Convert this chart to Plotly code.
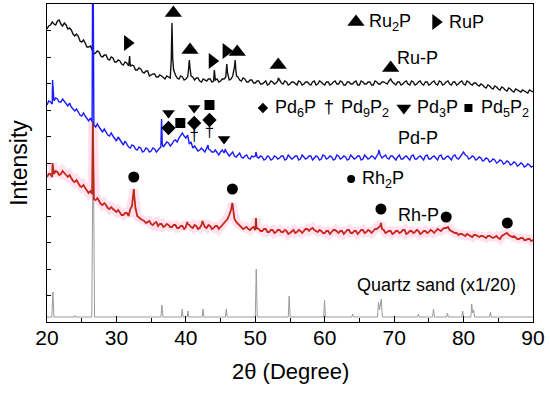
import plotly.graph_objects as go

# ---------------- data ----------------
two_theta = [20.0, 20.5, 21.0, 21.5, 22.0, 22.5, 23.0, 23.5, 24.0, 24.5, 25.0, 25.5, 26.0, 26.5, 27.0, 27.5,
             28.0, 28.5, 29.0, 29.5, 30.0, 30.5, 31.0, 31.5, 32.0, 32.5, 33.0, 33.5, 34.0, 34.5, 35.0, 35.5,
             36.0, 36.5, 37.0, 37.5, 38.0, 38.5, 39.0, 39.5, 40.0, 40.5, 41.0, 41.5, 42.0, 42.5, 43.0, 43.5,
             44.0, 44.5, 45.0, 45.5, 46.0, 46.5, 47.0, 47.5, 48.0, 48.5, 49.0, 49.5, 50.0, 50.5, 51.0, 51.5,
             52.0, 52.5, 53.0, 53.5, 54.0, 54.5, 55.0, 55.5, 56.0, 56.5, 57.0, 57.5, 58.0, 58.5, 59.0, 59.5,
             60.0, 60.5, 61.0, 61.5, 62.0, 62.5, 63.0, 63.5, 64.0, 64.5, 65.0, 65.5, 66.0, 66.5, 67.0, 67.5,
             68.0, 68.5, 69.0, 69.5, 70.0, 70.5, 71.0, 71.5, 72.0, 72.5, 73.0, 73.5, 74.0, 74.5, 75.0, 75.5,
             76.0, 76.5, 77.0, 77.5, 78.0, 78.5, 79.0, 79.5, 80.0, 80.5, 81.0, 81.5, 82.0, 82.5, 83.0, 83.5,
             84.0, 84.5, 85.0, 85.5, 86.0, 86.5, 87.0, 87.5, 88.0, 88.5, 89.0, 89.5, 90.0]
two_theta_mid = [20.25, 20.75, 21.25, 21.75, 22.25, 22.75, 23.25, 23.75, 24.25, 24.75, 25.25, 25.75, 26.25, 26.75, 27.25, 27.75,
                 28.25, 28.75, 29.25, 29.75, 30.25, 30.75, 31.25, 31.75, 32.25, 32.75, 33.25, 33.75, 34.25, 34.75, 35.25, 35.75,
                 36.25, 36.75, 37.25, 37.75, 38.25, 38.75, 39.25, 39.75, 40.25, 40.75, 41.25, 41.75, 42.25, 42.75, 43.25, 43.75,
                 44.25, 44.75, 45.25, 45.75, 46.25, 46.75, 47.25, 47.75, 48.25, 48.75, 49.25, 49.75, 50.25, 50.75, 51.25, 51.75,
                 52.25, 52.75, 53.25, 53.75, 54.25, 54.75, 55.25, 55.75, 56.25, 56.75, 57.25, 57.75, 58.25, 58.75, 59.25, 59.75,
                 60.25, 60.75, 61.25, 61.75, 62.25, 62.75, 63.25, 63.75, 64.25, 64.75, 65.25, 65.75, 66.25, 66.75, 67.25, 67.75,
                 68.25, 68.75, 69.25, 69.75, 70.25, 70.75, 71.25, 71.75, 72.25, 72.75, 73.25, 73.75, 74.25, 74.75, 75.25, 75.75,
                 76.25, 76.75, 77.25, 77.75, 78.25, 78.75, 79.25, 79.75, 80.25, 80.75, 81.25, 81.75, 82.25, 82.75, 83.25, 83.75,
                 84.25, 84.75, 85.25, 85.75, 86.25, 86.75, 87.25, 87.75, 88.25, 88.75, 89.25, 89.75]

ru_p = [293, 297, 298, 301, 298, 299, 293, 292, 286, 286, 280, 279, 275, 272, 269, 270,
        265, 267, 262, 264, 260, 261, 257, 259, 256, 256, 252, 253, 249, 251, 247, 248,
        245, 246, 243, 245, 299, 247, 243, 245, 243, 262, 245, 244, 241, 243, 241, 243,
        241, 243, 241, 243, 249, 243, 255, 245, 241, 243, 240, 242, 239, 241, 238, 241,
        238, 240, 239, 242, 238, 240, 238, 240, 237, 240, 238, 240, 237, 241, 238, 240,
        237, 240, 238, 241, 238, 240, 237, 240, 238, 241, 237, 240, 238, 240, 237, 240,
        238, 240, 238, 243, 238, 240, 237, 240, 238, 241, 237, 240, 238, 240, 237, 240,
        238, 241, 237, 240, 238, 240, 237, 240, 238, 241, 238, 239, 237, 238, 235, 237,
        234, 236, 233, 235, 232, 234, 231, 233, 231, 232, 230, 232, 230]
ru_p_mid = [296, 300, 297, 302, 296, 297, 294, 288, 288, 281, 282, 275, 276, 268, 271, 266,
            267, 263, 265, 260, 262, 258, 260, 256, 257, 252, 254, 250, 251, 246, 248, 245,
            247, 244, 246, 244, 251, 244, 246, 242, 245, 246, 242, 244, 240, 242, 243, 240,
            242, 240, 243, 245, 242, 246, 248, 242, 244, 240, 242, 239, 241, 238, 240, 237,
            241, 238, 241, 239, 241, 237, 240, 238, 241, 237, 240, 238, 240, 237, 241, 238,
            240, 237, 240, 238, 241, 237, 240, 238, 240, 237, 241, 238, 240, 237, 241, 238,
            240, 239, 241, 240, 237, 240, 238, 241, 237, 240, 238, 241, 237, 240, 238, 241,
            237, 240, 238, 241, 237, 240, 238, 241, 237, 240, 237, 239, 236, 237, 234, 236,
            233, 235, 232, 234, 231, 233, 230, 232, 230, 231, 229, 231]
ru_p_peak_x = [26.6, 26.7, 31.8, 31.9, 32.05, 37.8, 37.9, 37.95, 38.05, 38.1, 38.25,
               40.35, 40.45, 40.6, 40.7, 44.1, 44.2, 45.8, 45.9, 46.1, 47.1, 47.2, 47.3, 53.3]
ru_p_peak_y = [279, 270, 259, 266, 256, 250, 262, 282, 282, 264, 252,
               250, 257, 254, 248, 252, 245, 250, 258, 245, 262, 252, 246, 244]

pd_p = [217, 220, 221, 223, 220, 221, 216, 215, 211, 210, 206, 206, 201, 200, 195, 195,
        190, 190, 186, 186, 181, 182, 177, 178, 174, 176, 172, 174, 171, 173, 171, 173,
        172, 203, 177, 179, 178, 182, 184, 189, 184, 178, 174, 173, 172, 172, 174, 172,
        170, 169, 170, 169, 168, 168, 166, 167, 165, 166, 164, 166, 166, 164, 165, 163,
        165, 163, 165, 164, 166, 163, 165, 164, 166, 163, 165, 164, 166, 164, 165, 163,
        166, 164, 165, 163, 166, 164, 165, 163, 165, 164, 166, 163, 165, 164, 165, 166,
        167, 166, 164, 166, 164, 165, 163, 165, 164, 166, 163, 165, 164, 166, 163, 165,
        164, 166, 163, 165, 164, 166, 164, 165, 170, 166, 164, 165, 163, 164, 162, 163,
        161, 162, 160, 161, 159, 160, 158, 159, 157, 158, 156, 157, 156]
pd_p_mid = [221, 218, 224, 220, 223, 218, 219, 213, 213, 207, 209, 203, 204, 197, 198, 192,
            193, 187, 189, 183, 185, 179, 181, 175, 177, 173, 175, 170, 174, 170, 174, 170,
            174, 175, 180, 176, 181, 180, 186, 186, 187, 180, 176, 171, 174, 170, 173, 170,
            172, 167, 172, 171, 166, 170, 165, 169, 164, 167, 163, 165, 165, 166, 162, 166,
            162, 166, 163, 166, 162, 167, 163, 166, 162, 167, 163, 166, 162, 166, 162, 167,
            163, 166, 162, 167, 163, 166, 162, 167, 163, 166, 162, 167, 163, 166, 163, 169,
            164, 167, 163, 166, 162, 167, 163, 166, 162, 167, 163, 166, 162, 167, 163, 166,
            162, 167, 163, 166, 162, 167, 163, 168, 167, 163, 166, 162, 165, 161, 164, 160,
            163, 159, 162, 158, 161, 157, 160, 156, 159, 155, 158, 155]
pd_p_peak_x = [20.8, 20.9, 26.6, 26.7, 36.4, 36.6, 43.2, 45.7, 50.1, 67.8, 67.9]
pd_p_peak_y = [242, 222, 420, 199, 175, 178, 177, 173, 170, 172, 168]

rh_p = [145, 148, 148, 150, 148, 149, 145, 144, 140, 139, 135, 134, 129, 128, 122, 121,
        117, 117, 113, 113, 110, 110, 107, 109, 113, 133, 106, 103, 101, 100, 98, 99,
        96, 98, 96, 97, 95, 97, 94, 96, 95, 97, 94, 96, 94, 99, 94, 96,
        94, 96, 95, 98, 103, 112, 103, 98, 95, 94, 93, 94, 92, 93, 91, 93,
        90, 92, 90, 92, 90, 91, 89, 92, 90, 91, 91, 93, 93, 92, 90, 91,
        89, 91, 90, 92, 89, 91, 90, 92, 89, 91, 90, 92, 90, 91, 91, 93,
        96, 92, 90, 91, 89, 91, 90, 92, 89, 91, 90, 91, 89, 91, 90, 91,
        91, 92, 93, 94, 92, 90, 89, 88, 87, 88, 86, 87, 86, 86, 85, 86,
        85, 85, 84, 86, 88, 87, 85, 84, 83, 84, 82, 83, 82]
rh_p_mid = [148, 145, 151, 147, 151, 146, 147, 141, 142, 136, 137, 131, 131, 123, 124, 118,
            119, 114, 115, 111, 112, 107, 109, 106, 116, 113, 104, 102, 99, 101, 97, 100,
            98, 95, 98, 95, 97, 94, 96, 93, 98, 95, 97, 93, 97, 95, 97, 93,
            96, 93, 97, 100, 107, 116, 100, 97, 93, 95, 92, 95, 94, 91, 93, 90,
            92, 89, 92, 90, 92, 88, 91, 89, 92, 89, 93, 91, 94, 91, 92, 89,
            91, 88, 92, 90, 91, 88, 92, 89, 91, 88, 92, 89, 92, 89, 93, 95,
            93, 89, 91, 88, 91, 89, 92, 88, 91, 89, 92, 88, 91, 89, 92, 89,
            93, 91, 94, 95, 91, 89, 87, 88, 86, 87, 85, 87, 85, 86, 84, 86,
            84, 86, 83, 87, 89, 86, 86, 83, 84, 82, 83, 81]
rh_p_peak_x = [20.8, 20.9, 26.6, 26.7, 32.3, 32.4, 32.6, 32.75, 40.2, 42.4, 46.7, 46.85, 50.1, 50.2, 68.1, 68.2]
rh_p_peak_y = [159, 149, 200, 124, 120, 126, 124, 114, 100, 101, 119, 110, 104, 93, 99, 94]

quartz_x = [20.0, 20.7, 20.85, 21.0, 23.9, 24.0, 24.1, 26.45, 26.65, 26.85, 36.4, 36.55, 36.7,
            39.35, 39.47, 39.6, 40.2, 40.3, 40.42, 42.35, 42.47, 42.6, 45.7, 45.82, 45.95,
            50.0, 50.14, 50.28, 54.75, 54.88, 55.02, 59.85, 59.97, 60.1, 63.9, 64.02, 64.15,
            67.6, 67.75, 67.9, 68.15, 68.3, 73.4, 73.5, 73.62, 75.55, 75.67, 75.8,
            77.55, 77.67, 77.8, 79.75, 79.87, 80.0, 81.05, 81.17, 81.3, 81.45, 81.6,
            83.75, 83.87, 84.0, 90.0]
quartz_y = [5, 5, 30, 5, 5, 6.5, 5, 5, 200, 5, 5, 17, 5,
            5, 13, 5, 5, 11, 5, 5, 13, 5, 5, 13, 5,
            5, 53, 5, 5, 26, 5, 5, 22, 5, 5, 8, 5,
            5, 20, 12, 23, 5, 5, 8, 5, 5, 13, 5,
            5, 9, 5, 5, 11, 5, 5, 18, 9, 12, 5,
            5, 10, 5, 5]

# phase markers (2θ, height)
ru2p_x = [38.2, 40.6, 47.4, 53.3, 69.5]
ru2p_y = [309, 272, 270, 257, 254]
rup_x = [31.6, 43.8, 45.8]
rup_y = [279, 261, 271]
pd6p_x = [37.5, 41.2, 43.4]
pd6p_y = [194, 199, 202]
pd9p2_x = [41.2, 43.4]
pd9p2_y = [185, 189]
pd3p_x = [37.5, 41.2, 45.5]
pd3p_y = [209, 214, 183]
pd5p2_x = [39.2, 43.4]
pd5p2_y = [199, 217]
rh2p_x = [32.5, 46.7, 68.1, 77.5, 86.3]
rh2p_y = [145, 133, 113, 105, 99]

x_ticks = [20, 30, 40, 50, 60, 70, 80, 90]


def merged(*pairs):
    pts = []
    for xs, ys in pairs:
        pts += list(zip(xs, ys))
    pts.sort()
    return [p[0] for p in pts], [p[1] for p in pts]


FONT = "Arial, Liberation Sans, Helvetica, sans-serif"
fig = go.Figure()

# quartz sand
fig.add_trace(go.Scatter(x=quartz_x, y=quartz_y, mode="lines",
                         line=dict(color="#9a9a9a", width=1), hoverinfo="skip"))

# Rh-P (pink halo, red, dark core)
rx, ry = merged((two_theta, rh_p), (two_theta_mid, rh_p_mid), (rh_p_peak_x, rh_p_peak_y))
fig.add_trace(go.Scatter(x=rx, y=ry, mode="lines",
                         line=dict(color="rgba(255,90,170,0.18)", width=9), hoverinfo="skip"))
fig.add_trace(go.Scatter(x=rx, y=ry, mode="lines",
                         line=dict(color="#ee2020", width=1.8), hoverinfo="skip"))
fig.add_trace(go.Scatter(x=rx, y=ry, mode="lines",
                         line=dict(color="rgba(100,70,20,0.7)", width=0.8), hoverinfo="skip"))

# Ru-P
kx, ky = merged((two_theta, ru_p), (two_theta_mid, ru_p_mid), (ru_p_peak_x, ru_p_peak_y))
fig.add_trace(go.Scatter(x=kx, y=ky, mode="lines",
                         line=dict(color="#111111", width=1.4), hoverinfo="skip"))

# Pd-P
bx, by = merged((two_theta, pd_p), (two_theta_mid, pd_p_mid), (pd_p_peak_x, pd_p_peak_y))
fig.add_trace(go.Scatter(x=bx, y=by, mode="lines",
                         line=dict(color="#1a1aff", width=1.4), hoverinfo="skip"))


def markers(x, y, symbol, size):
    fig.add_trace(go.Scatter(x=x, y=y, mode="markers", hoverinfo="skip",
                             marker=dict(symbol=symbol, size=size, color="black",
                                         line=dict(width=0))))


markers(ru2p_x, ru2p_y, "triangle-up", 15)
markers(rup_x, rup_y, "triangle-right", 14)
markers(pd6p_x, pd6p_y, "diamond", 11)
markers(pd3p_x, pd3p_y, "triangle-down", 11)
markers(pd5p2_x, pd5p2_y, "square", 10)
markers(rh2p_x, rh2p_y, "circle", 11)
fig.add_trace(go.Scatter(x=pd9p2_x, y=pd9p2_y, mode="text", text=["†"] * len(pd9p2_x),
                         textfont=dict(size=17, color="black", family=FONT), hoverinfo="skip"))

# key symbols
markers([64.5], [300], "triangle-up", 15)
markers([76.0], [300], "triangle-right", 14)
markers([51.1], [214], "diamond", 8)
markers([71.4], [214], "triangle-down", 13)
markers([80.7], [214], "square", 8)
markers([63.8], [143], "circle", 8)
fig.add_trace(go.Scatter(x=[60.6], y=[214], mode="text", text=["†"],
                         textfont=dict(size=19, color="black", family=FONT), hoverinfo="skip"))

labels = [
    (66.1, 300, "Ru<sub>2</sub>P"),
    (77.6, 300, "RuP"),
    (70.1, 264, "Ru-P"),
    (52.5, 214, "Pd<sub>6</sub>P"),
    (62.1, 214, "Pd<sub>9</sub>P<sub>2</sub>"),
    (73.0, 214, "Pd<sub>3</sub>P"),
    (82.2, 214, "Pd<sub>5</sub>P<sub>2</sub>"),
    (70.2, 184, "Pd-P"),
    (65.1, 143, "Rh<sub>2</sub>P"),
    (70.2, 107, "Rh-P"),
    (64.4, 37, "Quartz sand (x1/20)"),
]
for lx, ly, t in labels:
    fig.add_annotation(x=lx, y=ly, text=t, showarrow=False, xanchor="left", yanchor="middle",
                       font=dict(size=18, color="black", family=FONT))

# axis titles
fig.add_annotation(x=0.5, y=-0.155, xref="paper", yref="paper", text="2θ (Degree)",
                   showarrow=False, yanchor="middle", font=dict(size=22, color="black", family=FONT))
fig.add_annotation(x=-0.058, y=0.5, xref="paper", yref="paper", text="Intensity", textangle=-90,
                   showarrow=False, xanchor="center", font=dict(size=23, color="black", family=FONT))

fig.update_layout(
    width=550, height=393, showlegend=False,
    margin=dict(l=47, r=17, t=4, b=71, autoexpand=False),
    plot_bgcolor="white", paper_bgcolor="white",
    font=dict(family=FONT, color="black"),
)
fig.update_xaxes(range=[20, 90], tickvals=x_ticks, ticks="inside", ticklen=6, tickwidth=1,
                 tickcolor="black", showline=True, linecolor="black", linewidth=1, mirror=True,
                 showgrid=False, zeroline=False, tickfont=dict(size=21), automargin=False,
                 ticklabelstandoff=-3,
                 minor=dict(dtick=5, tick0=0, ticks="inside", ticklen=4, tickcolor="black"))
fig.update_yaxes(range=[0, 318], tick0=0, dtick=26.5, ticks="inside", ticklen=4, tickwidth=1,
                 tickcolor="black", showline=True, linecolor="black", linewidth=1, mirror=True,
                 showgrid=False, zeroline=False, showticklabels=False, automargin=False)

fig.write_html("out.html", config={"displayModeBar": False},
               post_script="document.body.style.margin='0px';")
